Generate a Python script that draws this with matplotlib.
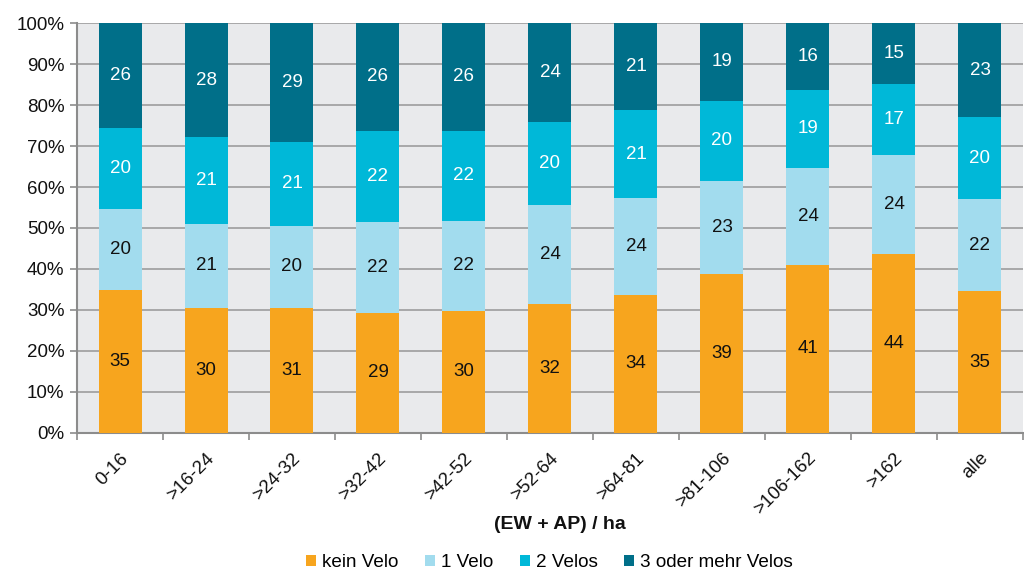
import matplotlib
matplotlib.use("Agg")
import matplotlib.pyplot as plt
import numpy as np
from matplotlib.patches import Patch

plt.rcParams['font.family'] = ['Liberation Sans', 'DejaVu Sans']

categories = ["0-16", ">16-24", ">24-32", ">32-42", ">42-52", ">52-64", ">64-81",
              ">81-106", ">106-162", ">162", "alle"]
kein_velo = [34.9, 30.5, 30.6, 29.3, 29.8, 31.5, 33.7, 38.9, 41.0, 43.7, 34.6]
ein_velo = [19.7, 20.5, 19.9, 22.2, 21.9, 24.1, 23.6, 22.6, 23.6, 24.1, 22.4]
zwei_velos = [19.8, 21.2, 20.6, 22.2, 22.0, 20.3, 21.5, 19.6, 19.1, 17.4, 20.0]
drei_plus = [25.6, 27.8, 28.9, 26.3, 26.3, 24.1, 21.2, 18.9, 16.3, 14.8, 23.0]
labels_kein = [35, 30, 31, 29, 30, 32, 34, 39, 41, 44, 35]
labels_ein = [20, 21, 20, 22, 22, 24, 24, 23, 24, 24, 22]
labels_zwei = [20, 21, 21, 22, 22, 20, 21, 20, 19, 17, 20]
labels_drei = [26, 28, 29, 26, 26, 24, 21, 19, 16, 15, 23]
series_names = ["kein Velo", "1 Velo", "2 Velos", "3 oder mehr Velos"]
colors = ["#F7A51E", "#A2DCEE", "#00B8D8", "#006F89"]
text_colors = ["#111111", "#111111", "white", "white"]

fig = plt.figure(figsize=(10.24, 5.70), dpi=100)
ax = fig.add_axes([0.0752, 0.2404, 0.9238, 0.7192])
ax.set_facecolor("#E9EAEC")

x = np.arange(len(categories))
series = [kein_velo, ein_velo, zwei_velos, drei_plus]
labels = [labels_kein, labels_ein, labels_zwei, labels_drei]
bottom = np.zeros(len(categories))
for vals, lab, col, tc in zip(series, labels, colors, text_colors):
    vals = np.array(vals)
    ax.bar(x, vals, width=0.5, bottom=bottom, color=col, zorder=3)
    for xi, b, v, l in zip(x, bottom, vals, lab):
        ax.text(xi, b + v / 2, str(l), ha="center", va="center", fontsize=13.5,
                color=tc, zorder=4)
    bottom += vals

ax.set_xlim(-0.5, len(categories) - 0.5)
ax.set_ylim(0, 100)
ax.set_yticks(np.arange(0, 101, 10))
ax.set_yticklabels([f"{v}%" for v in range(0, 101, 10)], fontsize=13.5, color="#111111")
ax.yaxis.grid(True, color="#A3A3A3", linewidth=1.3, zorder=1)
ax.set_axisbelow(True)

ax.set_xticks(x)
ax.set_xticklabels(categories, rotation=45, ha="right", rotation_mode="anchor",
                   fontsize=13.5, color="#111111")
ax.tick_params(axis="x", which="major", length=0, pad=12)
ax.set_xticks(np.arange(-0.5, len(categories)), minor=True)
ax.tick_params(axis="x", which="minor", length=5, color="#8C8C8C", width=1.2)
ax.tick_params(axis="y", length=5, color="#8C8C8C", width=1.2, pad=4)

for s in ["top", "right"]:
    ax.spines[s].set_visible(False)
for s in ["left", "bottom"]:
    ax.spines[s].set_color("#8C8C8C")
    ax.spines[s].set_linewidth(1.5)

fig.text(0.547, 0.079, "(EW + AP) / ha", ha="center", va="center",
         fontsize=14, fontweight="bold", color="#111111")

handles = [Patch(facecolor=c, edgecolor="none") for c in colors]
fig.legend(handles, series_names, loc="center", bbox_to_anchor=(0.5366, 0.013),
           ncol=4, frameon=False, fontsize=13.6, handlelength=0.55, handleheight=0.55,
           handletextpad=0.3, columnspacing=1.4)

fig.savefig("out.png", dpi=100)
